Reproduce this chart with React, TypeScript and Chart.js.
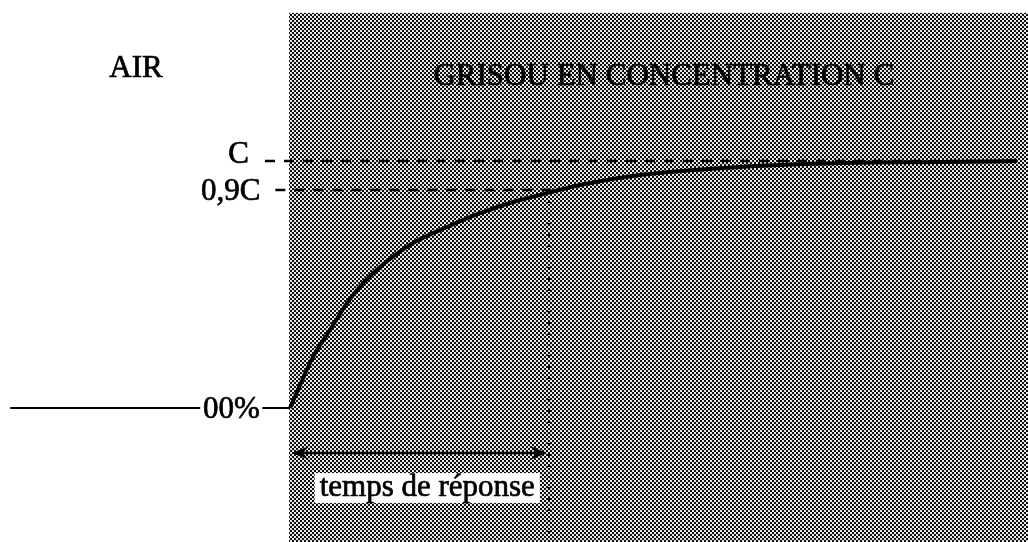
import React, { useEffect, useRef } from "react";
import { Chart, registerables } from "chart.js";

Chart.register(...registerables);

// Time axis in seconds (response time t90 = 30 s), concentration in % of C
const curveTime = [0, 2.66, 4.63, 6.6, 8.46, 10.42, 14.25, 18.19, 22.01, 25.83, 29.77, 33.59, 40.54, 52.13, 63.71, 75.29, 84.21];
const curveValue = [0, 20.6, 31.6, 42.5, 50.6, 57.1, 66.8, 73.3, 78.9, 83.4, 87.0, 90.3, 94.3, 97.6, 99.2, 99.6, 100];

const airTime = [-32.4, -10.4, null, -3.2, 0];
const airValue = [0, 0, null, 0, 0];

const levelLabels = ["C", "0,9C"];
const levelValues = [100, 88.3];
const levelStart = [-2.9, -1.7];
const levelEnd = [84.2, 31.3];

const responseTime = 30;
const arrowLevel = -18.2;

const baselineLabel = "00%";
const airLabel = "AIR";
const gasLabel = "GRISOU EN CONCENTRATION C";
const responseLabel = "temps de réponse";

const xRange = [-33.59, 85.48];
const yRange = [-54.25, 165.2];
const shadeTop = 160;

const FONT = '"Liberation Serif", "DejaVu Serif", serif';

function makePattern(ctx: CanvasRenderingContext2D) {
  const c = document.createElement("canvas");
  c.width = 4;
  c.height = 4;
  const p = c.getContext("2d")!;
  p.fillStyle = "#e8e8e8";
  p.fillRect(0, 0, 4, 4);
  p.fillStyle = "#0e0e0e";
  p.fillRect(0, 0, 2, 2);
  p.fillRect(2, 2, 2, 2);
  return ctx.createPattern(c, "repeat");
}

function heavyText(ctx: CanvasRenderingContext2D, text: string, px: number, py: number, maxW?: number) {
  ctx.lineWidth = 0.7;
  ctx.strokeStyle = "#000";
  if (maxW) {
    ctx.fillText(text, px, py, maxW);
    ctx.strokeText(text, px, py, maxW);
  } else {
    ctx.fillText(text, px, py);
    ctx.strokeText(text, px, py);
  }
}

const decorPlugin = {
  id: "decor",
  beforeDatasetsDraw(chart: any) {
    const { ctx, scales } = chart;
    const x = scales.x;
    const y = scales.y;
    ctx.save();
    ctx.fillStyle = "#ffffff";
    ctx.fillRect(0, 0, chart.width, chart.height);
    const pat = makePattern(ctx);
    ctx.fillStyle = pat || "#888";
    const left = x.getPixelForValue(0) - 1;
    const top = y.getPixelForValue(shadeTop);
    ctx.fillRect(left, top, chart.width - left, chart.height - top);
    ctx.restore();
  },
  afterDatasetsDraw(chart: any) {
    const { ctx, scales } = chart;
    const x = scales.x;
    const y = scales.y;
    ctx.save();
    ctx.setLineDash([]);
    ctx.fillStyle = "#000";
    ctx.textBaseline = "middle";
    ctx.font = `31px ${FONT}`;

    // AIR
    ctx.textAlign = "center";
    heavyText(ctx, airLabel, x.getPixelForValue(-17.84), y.getPixelForValue(137.2));

    // Gas label
    heavyText(ctx, gasLabel, x.getPixelForValue(43.3), y.getPixelForValue(134), 480);

    // Level labels
    ctx.textAlign = "right";
    heavyText(ctx, levelLabels[0], x.getPixelForValue(levelStart[0]) - 16, y.getPixelForValue(levelValues[0]) - 6);
    heavyText(ctx, levelLabels[1], x.getPixelForValue(levelStart[1]) - 15, y.getPixelForValue(levelValues[1]) + 2);

    // Baseline label
    ctx.textAlign = "center";
    heavyText(
      ctx,
      baselineLabel,
      (x.getPixelForValue(airTime[1] as number) + x.getPixelForValue(airTime[3] as number)) / 2,
      y.getPixelForValue(0) + 2
    );

    // Arrow
    const ax0 = x.getPixelForValue(0);
    const ax1 = x.getPixelForValue(responseTime);
    const ay = y.getPixelForValue(arrowLevel);
    ctx.strokeStyle = "#000";
    ctx.lineWidth = 2.5;
    ctx.beginPath();
    ctx.moveTo(ax0 + 4, ay);
    ctx.lineTo(ax1 - 4, ay);
    ctx.stroke();
    const head = (tip: number, dir: number) => {
      ctx.beginPath();
      ctx.moveTo(tip, ay);
      ctx.lineTo(tip - dir * 17, ay - 7);
      ctx.lineTo(tip - dir * 11, ay);
      ctx.lineTo(tip - dir * 17, ay + 7);
      ctx.closePath();
      ctx.fill();
    };
    head(ax0 + 2, -1);
    head(ax1 - 2, 1);

    // Response label with white box
    const lx = x.getPixelForValue(15.9);
    const ly = y.getPixelForValue(-32.4);
    const w = ctx.measureText(responseLabel).width;
    ctx.fillStyle = "#fff";
    ctx.fillRect(lx - w / 2 - 5, ly - 15, w + 10, 30);
    ctx.fillStyle = "#000";
    heavyText(ctx, responseLabel, lx, ly);
    ctx.restore();
  },
};

export default function App() {
  const ref = useRef<HTMLCanvasElement | null>(null);
  useEffect(() => {
    document.body.style.margin = "0";
    const canvas = ref.current!;
    const toPts = (xs: (number | null)[], ys: (number | null)[]) =>
      xs.map((v, i) => ({ x: v as any, y: ys[i] as any }));
    const chart = new Chart(canvas, {
      type: "line",
      data: {
        datasets: [
          {
            data: toPts(curveTime, curveValue),
            borderColor: "#000",
            borderWidth: 4,
            pointRadius: 0,
            cubicInterpolationMode: "monotone",
          },
          {
            data: toPts(airTime, airValue),
            borderColor: "#000",
            borderWidth: 2,
            pointRadius: 0,
            spanGaps: false,
          },
          {
            data: toPts([levelStart[0], levelEnd[0]], [levelValues[0], levelValues[0]]),
            borderColor: "#000",
            borderWidth: 2.5,
            borderDash: [10, 9],
            pointRadius: 0,
          },
          {
            data: toPts([levelStart[1], levelEnd[1]], [levelValues[1], levelValues[1]]),
            borderColor: "#000",
            borderWidth: 2.5,
            borderDash: [10, 9],
            pointRadius: 0,
          },
          {
            data: toPts([responseTime, responseTime], [levelValues[1], yRange[0]]),
            borderColor: "#000",
            borderWidth: 2.5,
            borderDash: [2, 9],
            pointRadius: 0,
          },
        ] as any,
      },
      options: {
        animation: false,
        responsive: true,
        maintainAspectRatio: false,
        layout: { padding: 0 },
        plugins: { legend: { display: false }, tooltip: { enabled: false } },
        scales: {
          x: { type: "linear", min: xRange[0], max: xRange[1], display: false },
          y: { type: "linear", min: yRange[0], max: yRange[1], display: false },
        },
      },
      plugins: [decorPlugin],
    });
    return () => chart.destroy();
  }, []);
  return (
    <div style={{ width: 1028, height: 542, position: "relative" }}>
      <canvas ref={ref} />
    </div>
  );
}
